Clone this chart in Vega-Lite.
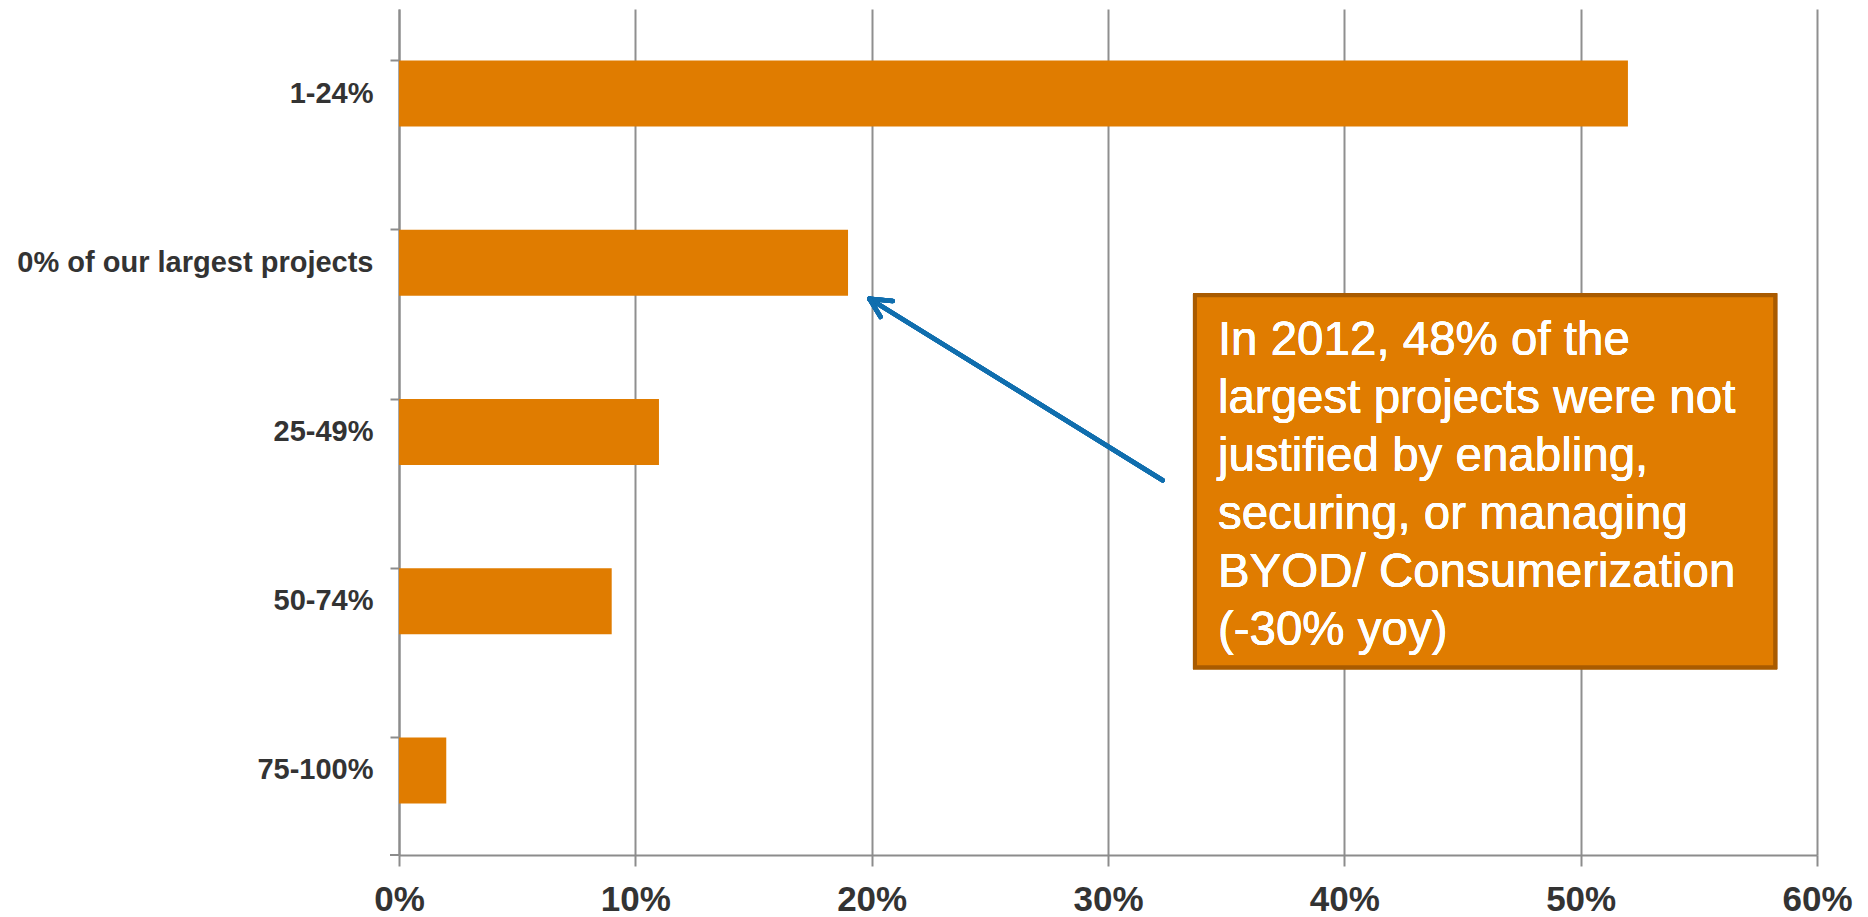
{
  "$schema": "https://vega.github.io/schema/vega-lite/v6.json",
  "width": 1418,
  "height": 846,
  "autosize": {"type": "none"},
  "padding": {"left": 399, "top": 9, "right": 51, "bottom": 62},
  "background": "white",
  "config": {"view": {"stroke": null}, "font": "Liberation Sans"},
  "data": {"values": [
    {"category": "1-24%", "share": 52},
    {"category": "0% of our largest projects", "share": 19},
    {"category": "25-49%", "share": 11},
    {"category": "50-74%", "share": 9},
    {"category": "75-100%", "share": 2}
  ]},
  "resolve": {"scale": {"y": "independent"}},
  "layer": [
    {
      "mark": {"type": "bar", "color": "#E07C00"},
      "encoding": {
        "y": {
          "field": "category", "type": "nominal", "sort": null,
          "scale": {"paddingInner": 0.61, "paddingOuter": 0.305},
          "axis": {
            "title": null, "bandPosition": 0, "tickSize": 9, "tickColor": "#8c8c8c", "tickWidth": 2,
            "domainColor": "#8c8c8c", "domainWidth": 2,
            "labelFont": "Liberation Sans", "labelFontSize": 29, "labelFontWeight": "bold",
            "labelColor": "#333333", "labelPadding": 17, "labelLimit": 400
          }
        },
        "x": {
          "field": "share", "type": "quantitative",
          "scale": {"domain": [0, 60], "nice": false},
          "axis": {
            "title": null, "values": [0, 10, 20, 30, 40, 50, 60],
            "labelExpr": "datum.value + '%'",
            "grid": true, "gridColor": "#8f8f8f", "gridWidth": 2,
            "tickSize": 11, "tickColor": "#8c8c8c", "tickWidth": 2,
            "domainColor": "#8c8c8c", "domainWidth": 2,
            "labelFont": "Liberation Sans", "labelFontSize": 35, "labelFontWeight": "bold",
            "labelColor": "#333333", "labelPadding": 16, "labelFlush": false
          }
        }
      }
    },
    {
      "layer": [
        {
          "mark": {"type": "rule", "color": "#8c8c8c", "strokeWidth": 2},
          "encoding": {
            "x": {"datum": -0.38, "type": "quantitative"},
            "x2": {"datum": 0},
            "y": {"datum": 5, "type": "quantitative", "scale": {"domain": [5, 0], "nice": false, "zero": false}, "axis": null}
          }
        },
        {
          "mark": {"type": "rect", "color": "#E07C00", "stroke": "#A95B00", "strokeWidth": 4},
          "encoding": {
            "x": {"datum": 33.68, "type": "quantitative"},
            "x2": {"datum": 58.23},
            "y": {"datum": 1.692, "type": "quantitative", "scale": {"domain": [5, 0], "nice": false, "zero": false}, "axis": null},
            "y2": {"datum": 3.89}
          }
        },
        {
          "mark": {
            "type": "text", "align": "left", "baseline": "top", "color": "white",
            "font": "Liberation Sans", "fontSize": 47.5, "lineHeight": 58,
            "text": ["In 2012, 48% of the", "largest projects were not", "justified by enabling,", "securing, or managing", "BYOD/ Consumerization", "(-30% yoy)"]
          },
          "encoding": {
            "x": {"datum": 34.65, "type": "quantitative"},
            "y": {"datum": 1.819, "type": "quantitative", "scale": {"domain": [5, 0], "nice": false, "zero": false}, "axis": null}
          }
        },
        {
          "mark": {"type": "rule", "color": "#106EAE", "strokeWidth": 4.5, "strokeCap": "round"},
          "encoding": {
            "x": {"datum": 32.31, "type": "quantitative"},
            "x2": {"datum": 19.9},
            "y": {"datum": 2.785, "type": "quantitative", "scale": {"domain": [5, 0], "nice": false, "zero": false}, "axis": null},
            "y2": {"datum": 1.712}
          }
        },
        {
          "mark": {"type": "rule", "color": "#106EAE", "strokeWidth": 4.5, "strokeCap": "round"},
          "encoding": {
            "x": {"datum": 19.9, "type": "quantitative"},
            "x2": {"datum": 20.89},
            "y": {"datum": 1.712, "type": "quantitative", "scale": {"domain": [5, 0], "nice": false, "zero": false}, "axis": null},
            "y2": {"datum": 1.726}
          }
        },
        {
          "mark": {"type": "rule", "color": "#106EAE", "strokeWidth": 4.5, "strokeCap": "round"},
          "encoding": {
            "x": {"datum": 19.9, "type": "quantitative"},
            "x2": {"datum": 20.38},
            "y": {"datum": 1.712, "type": "quantitative", "scale": {"domain": [5, 0], "nice": false, "zero": false}, "axis": null},
            "y2": {"datum": 1.82}
          }
        }
      ]
    }
  ]
}
